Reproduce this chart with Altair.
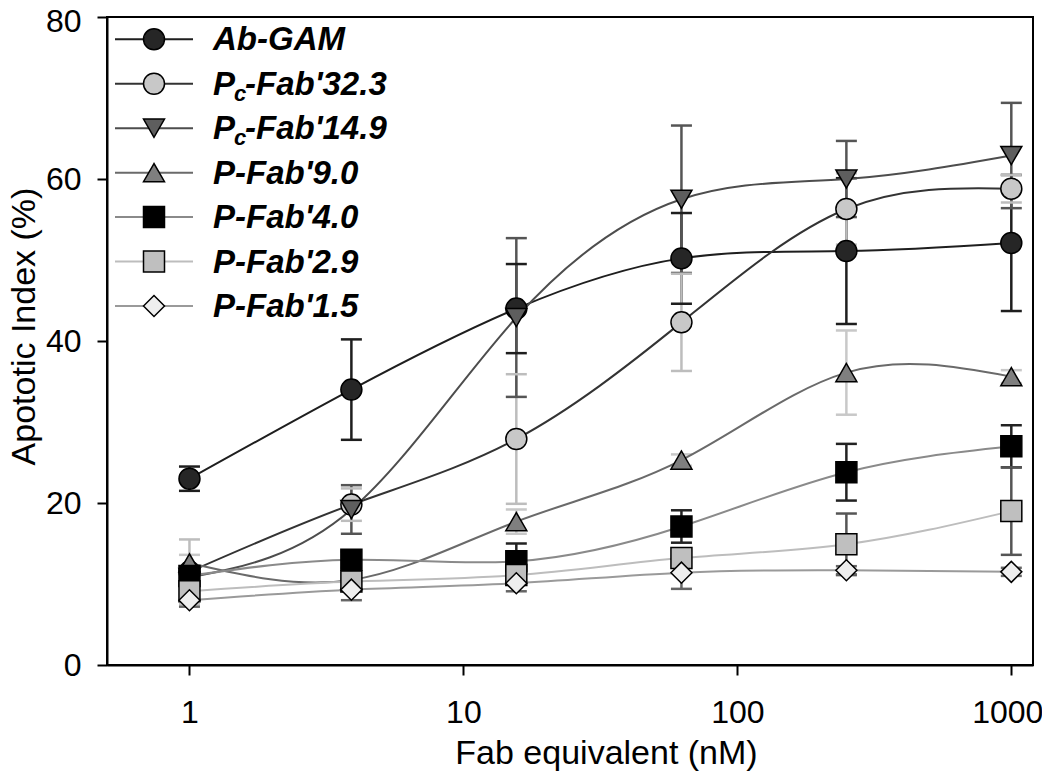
import altair as alt
import pandas as pd

# ---------------- data ----------------
series = ["Ab-GAM", "Pc-Fab'32.3", "Pc-Fab'14.9", "P-Fab'9.0", "P-Fab'4.0", "P-Fab'2.9", "P-Fab'1.5"]
conc_nM = [1, 3.9, 15.6, 62.5, 250, 1000]

ab_gam = [23.0, 34.0, 44.0, 50.2, 51.1, 52.1]
ab_gam_err = [1.5, 6.2, 5.5, 5.6, 9.0, 8.4]
pc_fab_32_3 = [11.5, 19.8, 27.9, 42.3, 56.3, 58.8]
pc_fab_32_3_err = [4.0, 2.0, 8.0, 6.0, 4.4, 1.7]
pc_fab_14_9 = [10.8, 19.2, 42.9, 57.5, 60.0, 62.9]
pc_fab_14_9_err = [1.0, 3.0, 9.8, 9.1, 4.7, 6.5]
p_fab_9_0 = [12.6, 10.5, 17.7, 25.3, 36.1, 35.6]
p_fab_9_0_err = [1.0, 1.0, 1.5, 0.7, 5.2, 0.8]
p_fab_4_0 = [11.0, 13.0, 12.8, 17.1, 23.8, 27.0]
p_fab_4_0_err = [1.0, 1.0, 2.2, 2.0, 3.5, 2.6]
p_fab_2_9 = [9.1, 10.3, 11.1, 13.2, 14.9, 19.0]
p_fab_2_9_err = [1.0, 1.0, 1.0, 1.0, 3.8, 5.4]
p_fab_1_5 = [8.0, 9.3, 10.1, 11.4, 11.7, 11.5]
p_fab_1_5_err = [0.8, 1.3, 1.0, 2.0, 0.5, 0.5]

values = [ab_gam, pc_fab_32_3, pc_fab_14_9, p_fab_9_0, p_fab_4_0, p_fab_2_9, p_fab_1_5]
errors = [ab_gam_err, pc_fab_32_3_err, pc_fab_14_9_err, p_fab_9_0_err,
          p_fab_4_0_err, p_fab_2_9_err, p_fab_1_5_err]

# ---------------- styles ----------------
line_colors = ["#1e1e1e", "#333333", "#4d4d4d", "#6a6a6a", "#8a8a8a", "#bdbdbd", "#9a9a9a"]
fill_colors = ["#262626", "#c8c8c8", "#5e5e5e", "#7f7f7f", "#000000", "#bfbfbf", "#eeeeee"]
err_colors = ["#1e1e1e", "#bdbdbd", "#555555", "#c8c8c8", "#222222", "#555555", "#666666"]
shapes = ["circle", "circle", "triangle-down", "triangle-up", "square", "square", "diamond"]
sizes = [441, 441, 400, 400, 372, 372, 470]

rows = []
for i, (name, vals, errs) in enumerate(zip(series, values, errors)):
    for x, v, e in zip(conc_nM, vals, errs):
        rows.append({"series": name, "order": i, "conc": x, "value": v,
                     "lo": v - e, "hi": v + e})
df = pd.DataFrame(rows)

FONT = "Liberation Sans"

x_scale = alt.Scale(type="log", domain=[0.5, 1200], nice=False)
y_scale = alt.Scale(domain=[0, 80], nice=False)

x_axis = alt.Axis(values=[1, 10, 100, 1000], format="d", title="Fab equivalent (nM)",
                  grid=False, tickSize=10, tickWidth=2, tickColor="black",
                  domainColor="black", domainWidth=2, labelFont=FONT, labelFontSize=32,
                  labelColor="black", labelPadding=22, labelFlush=False,
                  labelOffset={"condition": {"test": "datum.value == 1000", "value": -4},
                               "value": 0},
                  titleFont=FONT, titleFontSize=34, titleFontWeight="normal",
                  titleColor="black", titleX=499, titleY=71, titleBaseline="top",
                  titleAlign="center")
y_axis = alt.Axis(values=[0, 20, 40, 60, 80], title="Apototic Index (%)",
                  grid=False, tickSize=10, tickWidth=2, tickColor="black",
                  domainColor="black", domainWidth=2, labelFont=FONT, labelFontSize=32,
                  labelColor="black", labelPadding=16, labelFlush=False,
                  labelOffset={"condition": {"test": "datum.value == 80", "value": 4},
                               "value": 0},
                  titleFont=FONT, titleFontSize=34, titleFontWeight="normal",
                  titleColor="black", titleX=-66, titleY=309, titleAngle=270,
                  titleBaseline="bottom", titleAlign="center")

X = alt.X("conc:Q", scale=x_scale, axis=x_axis)
Y = alt.Y("value:Q", scale=y_scale, axis=y_axis)

stroke_enc = alt.Stroke("series:N", scale=alt.Scale(domain=series, range=line_colors), legend=None)
fill_enc = alt.Fill("series:N", scale=alt.Scale(domain=series, range=fill_colors), legend=None)
err_enc = alt.Color("series:N", scale=alt.Scale(domain=series, range=err_colors), legend=None)
shape_enc = alt.Shape("series:N", scale=alt.Scale(domain=series, range=shapes), legend=None)
size_enc = alt.Size("series:N", scale=alt.Scale(domain=series, range=sizes), legend=None)

base = alt.Chart(df)

err_rule = base.mark_rule(strokeWidth=2.5).encode(
    x=X, y=alt.Y("lo:Q", scale=y_scale, axis=y_axis), y2="hi:Q", color=err_enc)
cap_lo = base.mark_tick(orient="horizontal", size=21, thickness=2.5, opacity=1).encode(
    x=X, y=alt.Y("lo:Q", scale=y_scale, axis=y_axis), color=err_enc)
cap_hi = base.mark_tick(orient="horizontal", size=21, thickness=2.5, opacity=1).encode(
    x=X, y=alt.Y("hi:Q", scale=y_scale, axis=y_axis), color=err_enc)

lines = base.mark_line(interpolate="natural", strokeWidth=2).encode(
    x=X, y=Y, stroke=stroke_enc, detail="series:N", order="conc:Q")

points = base.mark_point(filled=True, stroke="black", strokeWidth=1.5, opacity=1).encode(
    x=X, y=Y, fill=fill_enc, shape=shape_enc, size=size_enc)

# ---------------- legend (drawn manually, inside the plot) ----------------
row_gap = 44.45
row0 = 22.3
leg = pd.DataFrame({"series": series,
                    "ly": [row0 + row_gap * i for i in range(len(series))]})
LY = alt.Y("ly:Q", scale=None, axis=None)

leg_lines = alt.Chart(leg).mark_rule(strokeWidth=2).encode(
    x=alt.value(8), x2=alt.value(86), y=LY, stroke=stroke_enc)
leg_points = alt.Chart(leg).mark_point(filled=True, stroke="black", strokeWidth=1.5,
                                       opacity=1).encode(
    x=alt.value(47), y=LY, fill=fill_enc, shape=shape_enc, size=size_enc)

big_txt, small_txt = [], []
for i, name in enumerate(series):
    base_y = row0 + row_gap * i + 11
    if name.startswith("Pc"):
        big_txt.append({"text": "P", "lx": 106, "ly": base_y})
        small_txt.append({"text": "c", "lx": 127, "ly": base_y + 6})
        big_txt.append({"text": name[2:], "lx": 138, "ly": base_y})
    else:
        big_txt.append({"text": name, "lx": 106, "ly": base_y})
big_df = pd.DataFrame(big_txt)
small_df = pd.DataFrame(small_txt)

txt_kw = dict(align="left", baseline="alphabetic", font=FONT, fontStyle="italic",
              fontWeight="bold", color="black")
leg_big = alt.Chart(big_df).mark_text(fontSize=33, **txt_kw).encode(
    x=alt.X("lx:Q", scale=None, axis=None), y=LY, text="text:N")
leg_small = alt.Chart(small_df).mark_text(fontSize=22, **txt_kw).encode(
    x=alt.X("lx:Q", scale=None, axis=None), y=LY, text="text:N")

chart = alt.layer(
    err_rule, cap_lo, cap_hi, lines, points,
    leg_lines, leg_points, leg_big, leg_small
).properties(
    width=926, height=648,
    padding={"left": 99, "top": 9, "right": 9, "bottom": 107},
    autosize=alt.AutoSizeParams(type="none"),
    background="white",
).configure_view(stroke="black", strokeWidth=2)

chart.save("out.html", embed_options={"renderer": "svg", "actions": False})
